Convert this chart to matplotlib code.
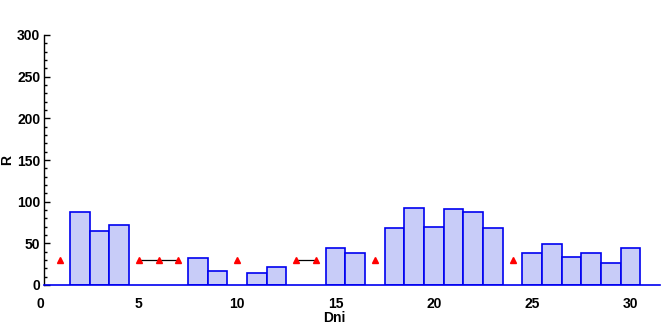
import matplotlib
matplotlib.use('Agg')
import matplotlib.pyplot as plt
import numpy as np
from matplotlib.ticker import MultipleLocator

# bars: day -> R
dni = [2, 3, 4, 8, 9, 11, 12, 15, 16, 18, 19, 20, 21, 22, 23, 25, 26, 27, 28, 29, 30]
r = [88, 65, 72, 33, 17, 15, 22, 44, 39, 69, 92, 70, 91, 88, 69, 39, 49, 34, 39, 27, 44]

# red markers (days without bar)
dni_mark = [1, 5, 6, 7, 10, 13, 14, 17, 24]
r_mark = [30, 30, 30, 30, 30, 30, 30, 30, 30]

plt.rcParams['font.family'] = ['Liberation Sans', 'DejaVu Sans']

fig = plt.figure(figsize=(6.71, 3.27), dpi=100)
ax = fig.add_axes([40.5 / 671, 42 / 327, 619.5 / 671, 250 / 327])

ax.bar(dni, r, width=1.0, color='#c8ccf8', edgecolor='#0000f0', linewidth=1.2, zorder=2)

# connect consecutive days with a black line
runs = np.split(np.arange(len(dni_mark)), np.where(np.diff(dni_mark) != 1)[0] + 1)
for run in runs:
    if len(run) > 1:
        ax.plot([dni_mark[i] for i in run], [r_mark[i] for i in run], color='black', lw=0.9, zorder=3)
ax.plot(dni_mark, r_mark, linestyle='none', marker='^', color='red', markersize=5, zorder=4)

ax.set_xlim(0, 31.5)
ax.set_ylim(0, 300)

for s in ['top', 'right']:
    ax.spines[s].set_visible(False)
ax.spines['left'].set_position(('data', 0.2))
ax.spines['left'].set_linewidth(1.0)
ax.spines['bottom'].set_color('#0000f0')
ax.spines['bottom'].set_linewidth(1.2)
ax.spines['bottom'].set_bounds(0.2, 31.5)

ax.set_xticks([0, 5, 10, 15, 20, 25, 30])
ax.set_yticks([0, 50, 100, 150, 200, 250, 300])
ax.yaxis.set_minor_locator(MultipleLocator(10))
ax.tick_params(axis='x', length=0, pad=9, labelsize=10)
ax.tick_params(axis='y', which='major', direction='in', length=4, width=1, pad=3, labelsize=10)
ax.tick_params(axis='y', which='minor', direction='in', length=2.5, width=1)
for lab in ax.get_xticklabels() + ax.get_yticklabels():
    lab.set_fontweight('bold')

ax.set_xlabel('Dni', fontsize=10, fontweight='bold')
ax.xaxis.set_label_coords(0.475, -0.105)
ax.set_ylabel('R', fontsize=10, fontweight='bold')
ax.yaxis.set_label_coords(-0.043, 0.5)

fig.savefig('out.png', dpi=100)
